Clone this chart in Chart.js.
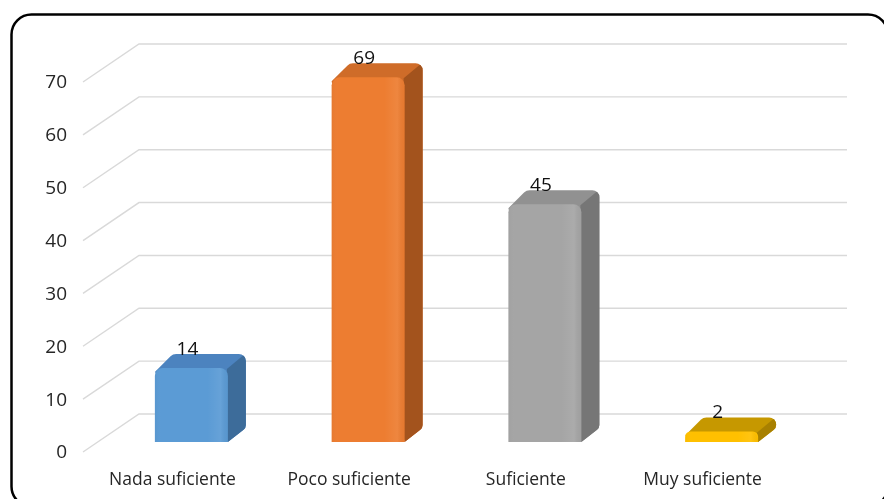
<!DOCTYPE html>
<html><head><meta charset="utf-8">
<script src="https://cdn.jsdelivr.net/npm/chart.js@4.4.1/dist/chart.umd.min.js"></script>
<style>html,body{margin:0;padding:0;background:#fff;overflow:hidden}#wrap{width:884px;height:499px;position:relative}</style>
</head><body><div id="wrap"><canvas id="c" width="884" height="499"></canvas></div>
<script>
// ---- data ----
const categories = ['Nada suficiente', 'Poco suficiente', 'Suficiente', 'Muy suficiente'];
const values = [14, 69, 45, 2];
const yTickValues = [0, 10, 20, 30, 40, 50, 60, 70];

// ---- styles ----
const frontColors = ['#5B9BD5', '#ED7D31', '#A5A5A5', '#FFC000'];
const topColors   = ['#4C83BF', '#CF6C29', '#919191', '#C69800'];
const sideColors  = ['#3D6C9A', '#A3531D', '#767676', '#A88000'];
const DX = 18, DY = -14;          // bar depth
const GF_DX = -20, GF_DY = 10;    // front gridline plane offset
const GB_DX = 36, GB_DY = -28;    // back gridline plane offset

Chart.defaults.font.family = "'Open Sans', sans-serif";

function roundedPoly(ctx, pts, radii) {
  const n = pts.length;
  ctx.beginPath();
  const s = [(pts[n - 1][0] + pts[0][0]) / 2, (pts[n - 1][1] + pts[0][1]) / 2];
  ctx.moveTo(s[0], s[1]);
  for (let i = 0; i < n; i++) {
    const p = pts[i], q = pts[(i + 1) % n];
    if (radii[i] > 0) ctx.arcTo(p[0], p[1], q[0], q[1], radii[i]);
    else ctx.lineTo(p[0], p[1]);
  }
  ctx.closePath();
}

const excel3d = {
  id: 'excel3d',
  beforeDraw(chart) {
    const ctx = chart.ctx;
    ctx.save();
    ctx.fillStyle = '#fff';
    ctx.fillRect(0, 0, chart.width, chart.height);
    ctx.lineWidth = 2.5;
    ctx.strokeStyle = '#000';
    ctx.beginPath();
    ctx.roundRect(11.5, 14.5, 876.5, 492, 20);
    ctx.stroke();
    ctx.restore();
  },
  beforeDatasetsDraw(chart) {
    const ctx = chart.ctx, y = chart.scales.y, a = chart.chartArea;
    ctx.save();
    ctx.strokeStyle = '#D9D9D9';
    ctx.lineWidth = 1.4;
    yTickValues.forEach(v => {
      const py = y.getPixelForValue(v);
      ctx.beginPath();
      ctx.moveTo(a.left + GF_DX, py + GF_DY);
      ctx.lineTo(a.left + GB_DX, py + GB_DY);
      ctx.lineTo(a.right + GB_DX + 1, py + GB_DY);
      ctx.stroke();
    });
    // extrusions (top + side faces)
    const meta = chart.getDatasetMeta(0);
    meta.data.forEach((bar, i) => {
      const x1 = bar.x - bar.width / 2, x2 = bar.x + bar.width / 2;
      const top = bar.y, base = bar.base;
      ctx.save();
      roundedPoly(ctx, [
        [x1, top + 4], [x1 + DX, top + DY], [x2 + DX, top + DY],
        [x2 + DX, base + DY], [x2, base]
      ], [0, 8, 7, 6, 0]);
      ctx.fillStyle = topColors[i];
      ctx.fill();
      ctx.clip();
      ctx.beginPath();
      ctx.moveTo(x2 - 1, top + 1);
      ctx.lineTo(x2 + DX - 1, top + DY);
      ctx.lineTo(x2 + DX + 10, top + DY);
      ctx.lineTo(x2 + DX + 10, base + 10);
      ctx.lineTo(x2 - 1, base + 10);
      ctx.closePath();
      ctx.fillStyle = sideColors[i];
      ctx.fill();
      ctx.restore();
    });
    ctx.restore();
  },
  afterDatasetsDraw(chart) {
    const ctx = chart.ctx;
    const meta = chart.getDatasetMeta(0);
    ctx.save();
    meta.data.forEach((bar, i) => {
      const x1 = bar.x - bar.width / 2, w = bar.width;
      const top = bar.y, base = bar.base;
      ctx.save();
      ctx.beginPath();
      ctx.roundRect(x1, top, w, base - top, [8, 8, 0, 0]);
      ctx.clip();
      const g = ctx.createLinearGradient(x1, 0, x1 + w, 0);
      g.addColorStop(0, 'rgba(0,0,0,0.03)');
      g.addColorStop(0.1, 'rgba(255,255,255,0)');
      g.addColorStop(0.72, 'rgba(255,255,255,0)');
      g.addColorStop(0.9, 'rgba(255,255,255,0.07)');
      g.addColorStop(1, 'rgba(0,0,0,0.03)');
      ctx.fillStyle = g;
      ctx.fillRect(x1, top, w, base - top);
      ctx.restore();
      // data label
      ctx.fillStyle = '#111';
      ctx.font = "19px 'Open Sans', sans-serif";
      ctx.textAlign = 'center';
      ctx.textBaseline = 'alphabetic';
      ctx.fillText(String(values[i]), bar.x - 4, top + DY + 1);
    });
    ctx.restore();
  }
};

new Chart(document.getElementById('c'), {
  type: 'bar',
  data: {
    labels: categories,
    datasets: [{
      data: values,
      backgroundColor: frontColors,
      borderWidth: 0,
      borderRadius: { topLeft: 8, topRight: 8, bottomLeft: 0, bottomRight: 0 },
      borderSkipped: false,
      barPercentage: 0.413,
      categoryPercentage: 1
    }]
  },
  options: {
    responsive: false,
    animation: false,
    events: [],
    layout: { padding: { top: 72, right: 74, bottom: 0, left: 0 } },
    plugins: { legend: { display: false }, tooltip: { enabled: false } },
    scales: {
      x: {
        grid: { display: false, drawTicks: false },
        border: { display: false },
        ticks: { color: '#262626', font: { size: 17.5 }, padding: 28, labelOffset: -19, maxRotation: 0 },
        afterFit(s) { s.height = 57; }
      },
      y: {
        min: 0, max: 70,
        grid: { display: false, drawTicks: false },
        border: { display: false },
        ticks: { stepSize: 10, color: '#262626', font: { size: 19 }, padding: 36, labelOffset: 11 },
        afterFit(s) { s.width = 103; }
      }
    }
  },
  plugins: [excel3d]
});
</script>
</body></html>
